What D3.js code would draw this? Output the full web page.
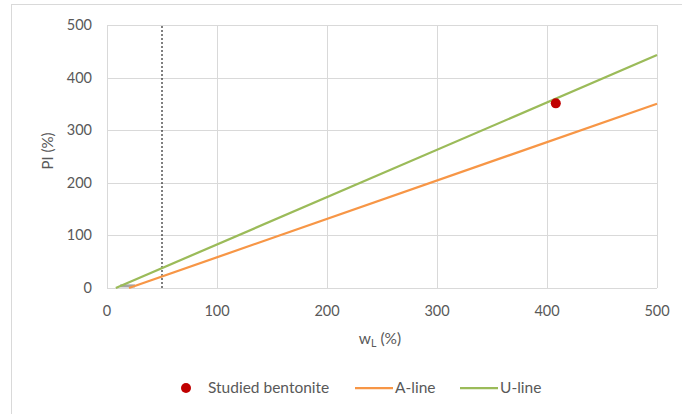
<!DOCTYPE html>
<html><head><meta charset="utf-8">
<script src="https://cdn.jsdelivr.net/npm/d3@7"></script>
<style>body{margin:0;background:#fff}svg{display:block}text{font-family:Lato,"Open Sans",sans-serif;fill:#595959}</style>
</head><body><svg id="c" width="682" height="414"></svg>
<script>
const xTicks=[0,100,200,300,400,500];
const yTicks=[0,100,200,300,400,500];
const bentonite=[[408,351]];
const aLine=[[20,0],[500,350.4]];
const uLine=[[8,0],[500,442.8]];
const clmlZone=[[12,4],[25.5,4]];
const wL50=[[50,0],[50,500]];
const legendItems=["Studied bentonite","A-line","U-line"];

const svg=d3.select("#c");
const x=d3.scaleLinear().domain([0,500]).range([107,657]);
const y=d3.scaleLinear().domain([0,500]).range([288,25]);
svg.append("rect").attr("x",11.5).attr("y",4.5).attr("width",700).attr("height",450).attr("fill","none").attr("stroke","#d9d9d9");
const g=svg.append("g");
g.selectAll(".gy").data(yTicks).join("line").attr("x1",x(0)).attr("x2",x(500)).attr("y1",d=>Math.round(y(d))+0.5).attr("y2",d=>Math.round(y(d))+0.5).attr("stroke","#d9d9d9");
g.selectAll(".gx").data(xTicks).join("line").attr("y1",y(0)).attr("y2",y(500)).attr("x1",d=>Math.round(x(d))+0.5).attr("x2",d=>Math.round(x(d))+0.5).attr("stroke","#d9d9d9");
g.selectAll(".ty").data(yTicks).join("text").attr("x",92).attr("y",d=>y(d)+5).attr("text-anchor","end").attr("font-size",14.5).text(d=>d);
g.selectAll(".tx").data(xTicks).join("text").attr("x",d=>x(d)).attr("y",316).attr("text-anchor","middle").attr("font-size",14.5).text(d=>d);
const line=d3.line().x(d=>x(d[0])).y(d=>y(d[1]));
g.append("path").attr("d",line(wL50)).attr("stroke","#000").attr("stroke-width",1).attr("stroke-dasharray","2,2").attr("fill","none");
g.append("path").attr("d",line(clmlZone)).attr("stroke","#a5a5a5").attr("stroke-width",3).attr("fill","none");
g.append("path").attr("d",line(aLine)).attr("stroke","#f79646").attr("stroke-width",2.25).attr("fill","none");
g.append("path").attr("d",line(uLine)).attr("stroke","#9bbb59").attr("stroke-width",2.25).attr("fill","none");
g.selectAll(".pt").data(bentonite).join("circle").attr("cx",d=>x(d[0])).attr("cy",d=>y(d[1])).attr("r",5).attr("fill","#c00000");
svg.append("text").attr("transform","translate(53,151) rotate(-90)").attr("text-anchor","middle").attr("font-size",15).text("PI (%)");
const t=svg.append("text").attr("x",380).attr("y",344).attr("text-anchor","middle").attr("font-size",15.5);
t.append("tspan").text("w");
t.append("tspan").attr("font-size",10.5).attr("dy",3).text("L");
t.append("tspan").attr("dy",-3).text(" (%)");
const lg=svg.append("g");
lg.append("circle").attr("cx",186).attr("cy",388).attr("r",5).attr("fill","#c00000");
lg.append("text").attr("x",208).attr("y",393).attr("font-size",15.5).text(legendItems[0]);
lg.append("line").attr("x1",355).attr("x2",393).attr("y1",388).attr("y2",388).attr("stroke","#f79646").attr("stroke-width",2.25);
lg.append("text").attr("x",395).attr("y",393).attr("font-size",15.5).text(legendItems[1]);
lg.append("line").attr("x1",460).attr("x2",498).attr("y1",388).attr("y2",388).attr("stroke","#9bbb59").attr("stroke-width",2.25);
lg.append("text").attr("x",500).attr("y",393).attr("font-size",15.5).text(legendItems[2]);
</script></body></html>
